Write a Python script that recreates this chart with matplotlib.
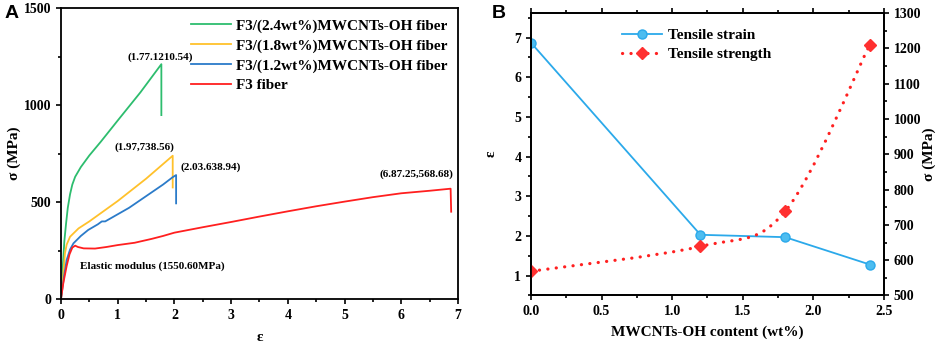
import numpy as np
import matplotlib
matplotlib.use("Agg")
import matplotlib.pyplot as plt
from matplotlib.path import Path
from matplotlib.patches import PathPatch
from matplotlib.lines import Line2D
from matplotlib.ticker import MultipleLocator, FormatStrFormatter

plt.rcParams['font.family'] = ['Liberation Serif', 'DejaVu Serif']
plt.rcParams['font.weight'] = 'bold'
plt.rcParams['axes.labelweight'] = 'bold'

# panel A: stress-strain curves (strain, stress MPa)
eps_24 = [0, 0.03, 0.06, 0.09, 0.12, 0.16, 0.2, 0.25, 0.35, 0.5, 0.7, 1.0, 1.4, 1.77, 1.77]
sig_24 = [0, 160, 300, 390, 470, 540, 590, 630, 680, 740, 810, 920, 1065, 1210.54, 948]
eps_18 = [0, 0.04, 0.07, 0.1, 0.16, 0.31, 0.5, 1.0, 1.5, 1.97, 1.97]
sig_18 = [0, 120, 235, 280, 321, 364, 400, 505, 620, 738.56, 575]
eps_12 = [0, 0.05, 0.1, 0.16, 0.22, 0.35, 0.48, 0.65, 0.72, 0.78, 0.9, 1.2, 1.5, 1.8, 1.97, 2.03, 2.03]
sig_12 = [0, 110, 201, 255, 287, 325, 356, 385, 400, 400, 420, 470, 530, 590, 628, 638.94, 493]
eps_f3 = [0, 0.04, 0.1, 0.15, 0.2, 0.25, 0.3, 0.4, 0.6, 0.8, 1.0, 1.3, 1.6, 1.8, 2.0, 2.5,
          3.0, 3.5, 4.0, 4.5, 5.0, 5.5, 6.0, 6.5, 6.87, 6.88]
sig_f3 = [0, 80, 170, 230, 265, 275, 268, 261, 260, 268, 278, 290, 310, 325, 342, 370,
          397, 425, 452, 478, 502, 525, 545, 558, 568.68, 450]
labels_a = ['F3/(2.4wt%)MWCNTs-OH fiber', 'F3/(1.8wt%)MWCNTs-OH fiber',
            'F3/(1.2wt%)MWCNTs-OH fiber', 'F3 fiber']
colors_a = ['#2dbd6e', '#ffc12b', '#2b7bc9', '#ff1f1f']

# panel B
content = [0.0, 1.2, 1.8, 2.4]
strain = [6.87, 2.03, 1.97, 1.28]
strength = [568.68, 638.94, 738.56, 1210.54]


def smooth_path(x, y):
    # catmull-rom through the points, drawn as bezier segments
    pts = np.column_stack([x, y]).astype(float)
    ext = np.vstack([pts[0], pts, pts[-1]])
    verts = [pts[0]]
    codes = [Path.MOVETO]
    for i in range(1, len(ext) - 2):
        p0, p1, p2, p3 = ext[i - 1], ext[i], ext[i + 1], ext[i + 2]
        verts += [p1 + (p2 - p0) / 6, p2 - (p3 - p1) / 6, p2]
        codes += [Path.CURVE4] * 3
    return Path(verts, codes)


def style_ticks(ax):
    ax.tick_params(which='both', direction='out', labelsize=10, width=1.2)
    ax.tick_params(which='major', length=3.5)
    ax.tick_params(which='minor', length=2)
    for sp in ax.spines.values():
        sp.set_linewidth(1.3)


fig = plt.figure(figsize=(9.41, 3.44), dpi=100)
ax1 = fig.add_axes([0.0648, 0.1308, 0.4219, 0.8459])
ax2 = fig.add_axes([0.5643, 0.141, 0.3751, 0.8212])

# ---- panel A
for e, s, c, lab in zip([eps_24, eps_18, eps_12, eps_f3], [sig_24, sig_18, sig_12, sig_f3],
                        colors_a, labels_a):
    ax1.plot(e, s, color=c, lw=1.3, label=lab)
ax1.set_xlim(0, 7)
ax1.set_ylim(0, 1500)
ax1.xaxis.set_major_locator(MultipleLocator(1))
ax1.xaxis.set_minor_locator(MultipleLocator(0.5))
ax1.yaxis.set_major_locator(MultipleLocator(500))
ax1.yaxis.set_minor_locator(MultipleLocator(250))
style_ticks(ax1)
ax1.set_xlabel('ε', fontsize=11, labelpad=7)
ax1.set_ylabel('σ (MPa)', fontsize=11, labelpad=2)
leg = ax1.legend(loc='upper right', frameon=False, fontsize=11, handlelength=2.6,
                 handletextpad=0.3, labelspacing=0.4, borderaxespad=0.3)
for t in leg.get_texts():
    t.set_fontweight('bold')

ann = dict(fontsize=8, fontweight='bold')
ax1.text(1.75, 1248, '(1.77.1210.54)', ha='center', va='center', **ann)
ax1.text(1.47, 782, '(1.97,738.56)', ha='center', va='center', **ann)
ax1.text(2.1, 679, '(2.03.638.94)', ha='left', va='center', **ann)
ax1.text(6.92, 644, '(6.87.25,568.68)', ha='right', va='center', **ann)
ax1.text(0.33, 167, 'Elastic modulus (1550.60MPa)', ha='left', va='center', **ann)

# ---- panel B
ax2.plot(content, strain, color='#2ba9ea', lw=1.3, marker='o', ms=6.5,
         mfc='#4dbdf0', mec='#2ba9ea')
ax2.set_xlim(0, 2.5)
ax2.set_ylim(0.5, 7.62)
ax2.xaxis.set_major_locator(MultipleLocator(0.5))
ax2.xaxis.set_minor_locator(MultipleLocator(0.25))
ax2.yaxis.set_major_locator(MultipleLocator(1))
ax2.yaxis.set_minor_locator(MultipleLocator(0.5))
ax2.xaxis.set_major_formatter(FormatStrFormatter('%.1f'))
style_ticks(ax2)
ax2.tick_params(which='both', top=True)
ax2.set_xlabel('MWCNTs-OH content (wt%)', fontsize=11, labelpad=5)
ax2.set_ylabel('ε', fontsize=11, labelpad=12)

ax3 = ax2.twinx()
ax3.add_patch(PathPatch(smooth_path(content, strength), fill=False, edgecolor='#ff2020',
                        lw=2.3, linestyle=(0, (0.05, 2.6)), capstyle='round'))
ax3.plot(content, strength, ls='none', marker='D', ms=6.5, color='#ff3030')
ax3.set_ylim(500, 1300)
ax3.yaxis.set_major_locator(MultipleLocator(100))
ax3.yaxis.set_minor_locator(MultipleLocator(50))
style_ticks(ax3)
ax3.set_ylabel('σ (MPa)', fontsize=11, labelpad=1)

handles = [Line2D([], [], color='#2ba9ea', lw=1.3, marker='o', ms=6.5, mfc='#4dbdf0',
                  mec='#2ba9ea'),
           Line2D([], [], color='#ff2020', lw=2.3, ls=(0, (0.05, 2.6)),
                  solid_capstyle='round', dash_capstyle='round', marker='D', ms=6.5,
                  mfc='#ff3030', mec='#ff3030')]
leg2 = ax3.legend(handles, ['Tensile strain', 'Tensile strength'], loc='upper center',
                  bbox_to_anchor=(0.47, 0.995), frameon=False, fontsize=11,
                  handlelength=2.6, handletextpad=0.4, labelspacing=0.35)
for t in leg2.get_texts():
    t.set_fontweight('bold')

fig.text(0.005, 0.985, 'A', fontsize=14, fontweight='bold', family='Liberation Sans',
         va='top', ha='left')
fig.text(0.523, 0.985, 'B', fontsize=14, fontweight='bold', family='Liberation Sans',
         va='top', ha='left')

fig.savefig('out.png', dpi=100)
